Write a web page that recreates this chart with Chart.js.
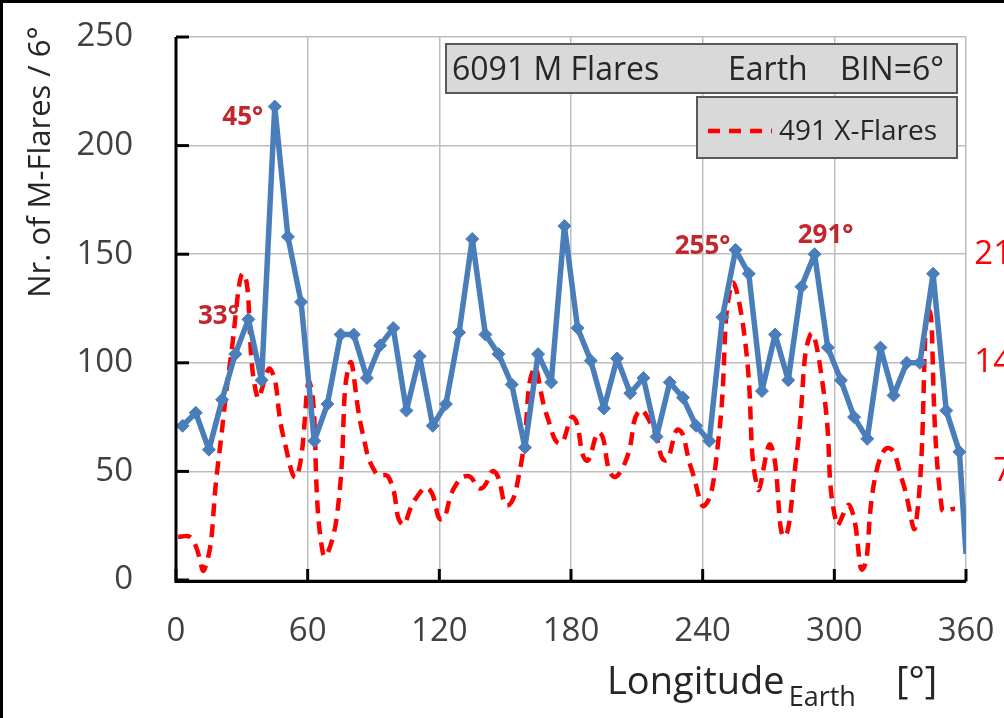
<!DOCTYPE html>
<html>
<head>
<meta charset="utf-8">
<script src="https://cdn.jsdelivr.net/npm/chart.js@4.4.1/dist/chart.umd.min.js"></script>
<style>
  html, body { margin: 0; padding: 0; background: #fff; }
  #wrap { width: 1004px; height: 718px; }
</style>
</head>
<body>
<div id="wrap"><canvas id="c" width="1004" height="718"></canvas></div>
<script>
// ---- data --------------------------------------------------------------
// M flares per 6° bin, plotted at the bin centres 3°, 9°, ... 357°
const mFlares = [
  71, 77, 60, 83, 104, 120, 92, 218, 158, 128,
  64, 81, 113, 113, 93, 108, 116, 78, 103, 71,
  81, 114, 157, 113, 104, 90, 61, 104, 91, 163,
  116, 101, 79, 102, 86, 93, 66, 91, 84, 71,
  64, 121, 152, 141, 87, 113, 92, 135, 150, 107,
  92, 75, 65, 107, 85, 100, 100, 141, 78, 59
];
const mLon = mFlares.map((_, i) => 3 + 6 * i);
const mEndLon = 360;      // line runs on to the right edge
const mEndValue = 12;

// X flares per bin (right axis), smoothed curve
const xFlares = [
  2.8, 2.7, 0.7, 7.3, 14.4, 19.7, 11.8, 13.6, 9.2, 6.7,
  12.7, 1.7, 3.8, 13.9, 9.5, 6.9, 6.6, 3.6, 5.2, 5.9,
  3.9, 6.0, 6.7, 5.9, 7.0, 4.8, 7.3, 13.6, 10.6, 8.8,
  10.5, 7.7, 9.5, 6.7, 7.7, 10.9, 9.9, 7.7, 9.7, 7.1,
  4.8, 8.8, 19.0, 15.8, 5.9, 8.7, 2.8, 8.3, 15.8, 12.3,
  3.6, 4.8, 0.7, 6.9, 8.5, 6.4, 3.5, 17.4, 4.6, 4.6
];
const xLon = xFlares.map((_, i) => 1 + 6 * i);

const lonTicks = [0, 60, 120, 180, 240, 300, 360];
const rightTicks = [7, 14, 21];

const peakLabels = [
  { text: '45°',  lon: 45,  value: 218, dx: -32, dy: 11 },
  { text: '33°',  lon: 33,  value: 120, dx: -30, dy: -3 },
  { text: '255°', lon: 255, value: 152, dx: -33, dy: -3 },
  { text: '291°', lon: 291, value: 150, dx: 11,  dy: -19 },
];

// ---- styles ------------------------------------------------------------
const BLUE  = '#4a7ebb';
const RED   = '#ff0000';
const DARKRED = '#c0282d';
const GRID  = '#bdbdbd';
const TEXT  = '#404040';
const FONT  = "'Open Sans', sans-serif";

// スケールの自動余白を消して、プロット領域を固定する
function noPad(s) {
  s.paddingTop = 0; s.paddingBottom = 0; s.paddingLeft = 0; s.paddingRight = 0;
}

// 装飾（軸線・内向き目盛・凡例ボックス・注記・軸タイトル）
const decor = {
  id: 'decor',
  beforeDraw(chart) {
    const c = chart.ctx;
    c.save();
    c.fillStyle = '#fff';
    c.fillRect(0, 0, chart.width, chart.height);
    c.restore();
  },
  afterDatasetsDraw(chart) {
    const c = chart.ctx;
    const { left, right, top, bottom } = chart.chartArea;
    const xs = chart.scales.x, ys = chart.scales.y;
    c.save();

    // axes
    c.strokeStyle = '#000';
    c.lineWidth = 3;
    c.beginPath();
    c.moveTo(left, top); c.lineTo(left, bottom + 1.5);
    c.lineTo(right, bottom + 1.5);
    c.stroke();
    // inner ticks
    for (let v = 0; v <= 250; v += 50) {
      const y = ys.getPixelForValue(v);
      c.beginPath(); c.moveTo(left, y); c.lineTo(left + 13, y); c.stroke();
    }
    lonTicks.forEach(t => {
      const x = xs.getPixelForValue(t);
      c.beginPath(); c.moveTo(x, bottom + 1.5); c.lineTo(x, bottom - 11); c.stroke();
    });

    // legend boxes
    c.fillStyle = '#d9d9d9';
    c.strokeStyle = '#595959';
    c.lineWidth = 2;
    c.fillRect(446, 44, 511, 49);  c.strokeRect(446, 44, 511, 49);
    c.fillRect(697, 97, 260, 61);  c.strokeRect(697, 97, 260, 61);
    c.fillStyle = '#262626';
    c.font = `32px ${FONT}`;
    c.textBaseline = 'alphabetic';
    c.textAlign = 'left';
    c.fillText('6091 M Flares', 452, 80);
    c.fillText('Earth', 728, 80);
    c.fillText('BIN=6°', 840, 80);
    c.font = `28px ${FONT}`;
    c.fillText('491 X-Flares', 779, 140);
    c.strokeStyle = RED;
    c.lineWidth = 4.5;
    c.setLineDash([12, 9]);
    c.beginPath(); c.moveTo(708, 131); c.lineTo(772, 131); c.stroke();
    c.setLineDash([]);

    // peak annotations
    c.fillStyle = DARKRED;
    c.font = `bold 26px ${FONT}`;
    c.textAlign = 'center';
    c.textBaseline = 'middle';
    peakLabels.forEach(p => {
      c.fillText(p.text, xs.getPixelForValue(p.lon) + p.dx, ys.getPixelForValue(p.value) + p.dy);
    });

    // axis titles
    c.fillStyle = '#262626';
    c.textAlign = 'left';
    c.textBaseline = 'alphabetic';
    c.font = `38px ${FONT}`;
    c.fillText('Longitude', 607, 694);
    const w = c.measureText('Longitude').width;
    c.font = `27px ${FONT}`;
    c.fillText('Earth', 607 + w + 4, 706);
    c.font = `38px ${FONT}`;
    c.fillText('[°]', 896, 694);

    c.translate(50, 162);
    c.rotate(-Math.PI / 2);
    c.textAlign = 'center';
    c.font = `31px ${FONT}`;
    c.fillText('Nr. of M-Flares / 6°', 0, 0);
    c.restore();

    // frame
    c.save();
    c.strokeStyle = '#000';
    c.lineWidth = 3;
    c.beginPath();
    c.moveTo(1.5, chart.height); c.lineTo(1.5, 1.5); c.lineTo(chart.width, 1.5);
    c.stroke();
    c.restore();
  }
};

const mPoints = mLon.map((x, i) => ({ x, y: mFlares[i] }));
mPoints.push({ x: mEndLon, y: mEndValue });

new Chart(document.getElementById('c').getContext('2d'), {
  type: 'line',
  data: {
    datasets: [
      {
        label: '491 X-Flares',
        yAxisID: 'y2',
        data: xLon.map((x, i) => ({ x, y: xFlares[i] })),
        borderColor: RED,
        borderWidth: 4.5,
        borderDash: [13, 8],
        pointRadius: 0,
        tension: 0.5,
        fill: false,
        order: 2,
      },
      {
        label: '6091 M Flares',
        yAxisID: 'y',
        data: mPoints,
        borderColor: BLUE,
        backgroundColor: BLUE,
        borderWidth: 5.5,
        borderJoinStyle: 'round',
        pointStyle: 'rectRot',
        pointRadius: (ctx) => (ctx.dataIndex === mFlares.length ? 0 : 6.5),
        pointBorderWidth: 1,
        tension: 0,
        fill: false,
        order: 1,
      },
    ],
  },
  options: {
    responsive: false,
    animation: false,
    layout: { padding: { top: 37, right: -8, left: 0, bottom: 0 } },
    plugins: { legend: { display: false }, tooltip: { enabled: false } },
    scales: {
      x: {
        type: 'linear', min: 0, max: 360,
        afterBuildTicks: (s) => { s.ticks = lonTicks.map(v => ({ value: v })); },
        ticks: { padding: 32, color: TEXT, font: { family: FONT, size: 33 }, maxRotation: 0 },
        grid: { color: GRID, lineWidth: 1.5, drawTicks: false },
        border: { display: false },
        afterFit: (s) => { s.height = 138; noPad(s); },
      },
      y: {
        min: 0, max: 250,
        ticks: { stepSize: 50, padding: 43, color: TEXT, font: { family: FONT, size: 33 } },
        grid: { color: GRID, lineWidth: 1.5, drawTicks: false },
        border: { display: false },
        afterFit: (s) => { s.width = 176; noPad(s); },
      },
      y2: {
        position: 'right', min: 0, max: 35,
        ticks: {
          stepSize: 7, crossAlign: 'far', color: RED,
          font: { family: FONT, size: 33 },
          callback: (v) => (rightTicks.includes(v) ? v : ''),
        },
        grid: { display: false, drawTicks: false },
        border: { display: false },
        afterFit: (s) => { s.width = 46; noPad(s); },
      },
    },
  },
  plugins: [decor],
});
</script>
</body>
</html>
